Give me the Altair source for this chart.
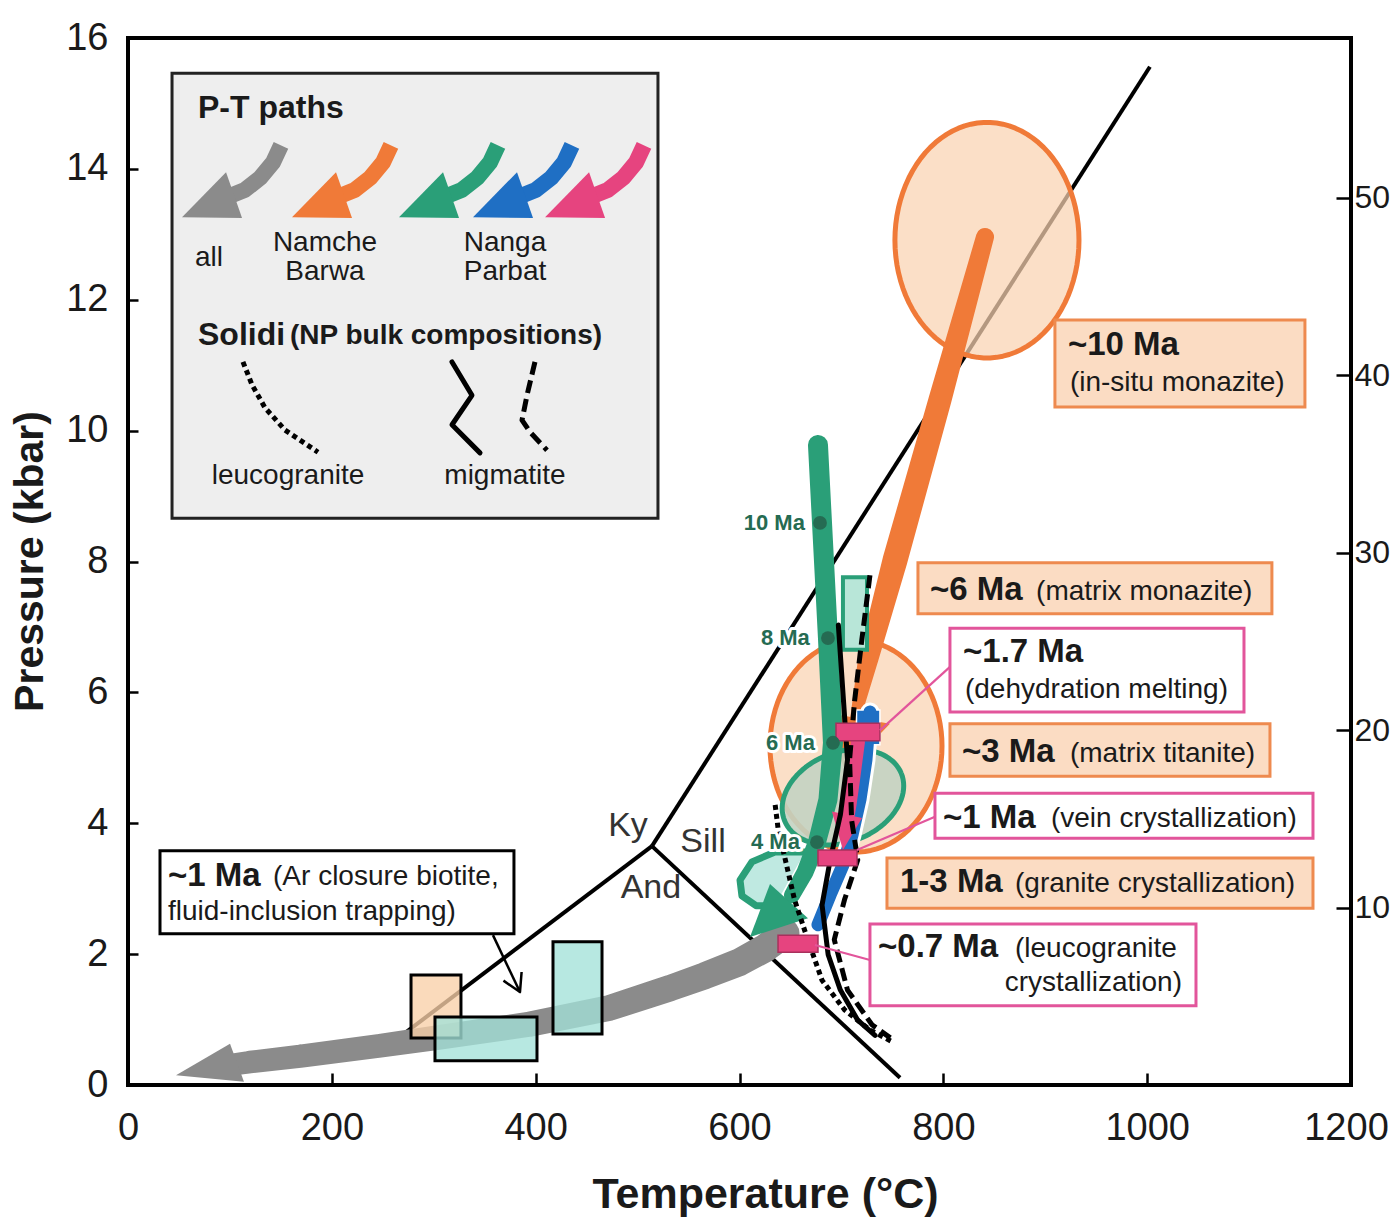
import altair as alt
import numpy as np
import pandas as pd

# ------------------------------------------------------------------ axes
X_DOMAIN = [0, 1200]
Y_DOMAIN = [0, 16]
T_TICKS = [0, 200, 400, 600, 800, 1000, 1200]
P_TICKS = [0, 2, 4, 6, 8, 10, 12, 14, 16]
DEPTH_TICKS = [10, 20, 30, 40, 50]
DEPTH_MAX = 59.0          # km equivalent of 16 kbar

W, H = 1223, 1047
PX_RATIO = (H / 16.0) / (W / 1200.0)   # pixels per kbar / pixels per degC

FONT = "Liberation Sans, Arial, Helvetica, sans-serif"
TICKFONT = "Liberation Sans Narrow, Arial Narrow, Liberation Sans, sans-serif"

ORANGE = "#f07a38"
PEACH = "#fbdcc3"
GREEN = "#2a9f78"
DKGREEN = "#256b52"
BLUE = "#1f6fc4"
PINK = "#e6447f"
GRAY = "#8b8b8b"
TEAL = "#a3e2d8"
LEGBG = "#eeeeee"
PINKBOX = "#e2559b"
ORBOX = "#ee8a4f"
INK = "#1a1a1a"

# ------------------------------------------------------------------ data
# aluminosilicate phase boundaries (T degC, P kbar)
KYSILL_T, KYSILL_P = [514.1, 1002.7], [3.65, 15.56]
KYAND_T, KYAND_P = [514.1, 257.0], [3.65, 0.62]
SILLAND_T, SILLAND_P = [514.1, 757.5], [3.65, 0.11]

# grey "all" P-T path
GRAY_T = [644.6, 625.0, 600.5, 566.1, 531.8, 472.9, 394.4, 306.1, 247.3, 168.8, 119.7, 102.0]
GRAY_P = [2.32, 2.09, 1.88, 1.67, 1.48, 1.18, 0.93, 0.73, 0.60, 0.44, 0.35, 0.31]
GRAY_HEAD_T = [47.1, 100.1, 113.8]
GRAY_HEAD_P = [0.15, 0.63, 0.05]

# Namche Barwa (orange)
ORANGE_T = [840.9, 796.7, 752.6, 726.0, 713.3]
ORANGE_P = [12.96, 10.47, 8.02, 6.49, 5.58]
ORANGE_HEAD_T = [703.5, 680.9, 747.6]
ORANGE_HEAD_P = [4.81, 5.70, 5.52]
ELL_CT = [842.8, 714.3]
ELL_CP = [12.91, 5.18]
ELL_RT = [90.3, 84.4]
ELL_RP = [1.80, 1.62]

# Nanga Parbat (green)
GREEN_T = [677.0, 686.8, 691.7, 686.8, 676.0, 664.2, 651.5]
GREEN_P = [9.78, 6.83, 5.23, 4.36, 3.71, 3.25, 2.90]
GREEN_HEAD_T = [610.3, 629.9, 667.2]
GREEN_HEAD_P = [2.26, 3.07, 2.55]
GLOOP = dict(cT=701.5, cP=4.40, a=61.8, b=44.0, angle=22.0)   # a, b in degC-equivalent
GHOOK_T = [664.2, 634.8, 612.2, 600.5, 602.4, 616.2, 634.8]
GHOOK_P = [3.56, 3.56, 3.41, 3.13, 2.89, 2.74, 2.74]
GRECT = [701.5, 725.1, 6.65, 7.76]
AGE_T = [679.0, 686.8, 691.7, 676.0]
AGE_P = [8.59, 6.83, 5.23, 3.71]
AGE_LBL = ["10 Ma", "8 Ma", "6 Ma", "4 Ma"]
AGE_LBL_T = [664.2, 669.0, 674.0, 659.3]

# Nanga Parbat (blue)
BLUE_T = [728.0, 724.1, 718.2, 710.4, 701.5, 688.8, 677.0]
BLUE_P = [5.70, 4.97, 4.36, 3.82, 3.36, 2.90, 2.45]
BRECT = [714.8, 737.8, 5.20, 5.73]

# Nanga Parbat (pink)
PINK_T = [716.2, 711.3, 708.4, 706.4]
PINK_P = [5.24, 4.66, 4.28, 4.05]
PINK_HEAD_T = [701.5, 690.7, 720.2]
PINK_HEAD_P = [3.59, 4.18, 4.08]
PRECT_T1 = [694.7, 677.0, 637.8]
PRECT_T2 = [737.8, 715.3, 677.0]
PRECT_P1 = [5.26, 3.35, 2.03]
PRECT_P2 = [5.53, 3.59, 2.29]

# solidi
LEUCO_T = [635, 638, 645, 654, 667, 681, 703, 728, 750]
LEUCO_P = [4.28, 3.90, 3.44, 2.83, 2.22, 1.60, 1.15, 0.84, 0.66]
MIGS_T = [697, 702, 706, 699, 689, 681, 687, 699, 716, 733]
MIGS_P = [7.03, 5.88, 4.97, 4.13, 3.44, 2.75, 1.99, 1.45, 0.99, 0.76]
MIGD_T = [728, 720, 713, 708, 710, 716, 703, 693, 706, 730, 748]
MIGD_P = [7.79, 6.80, 5.88, 4.97, 4.05, 3.44, 2.83, 2.22, 1.45, 0.92, 0.72]

# small rectangles at low P-T
LOWBOX_T1 = [277.7, 301.2, 417.0]
LOWBOX_T2 = [326.7, 401.3, 465.1]
LOWBOX_P1 = [0.72, 0.37, 0.78]
LOWBOX_P2 = [1.68, 1.04, 2.19]
LOWBOX_FILL = ["#f8d0a8", TEAL, TEAL]

# annotation boxes
BOX_T1 = [909.5, 775.1, 806.5, 806.5, 791.8, 744.7, 728.0, 31.4]
BOX_T2 = [1154.8, 1122.4, 1095.0, 1120.5, 1162.7, 1162.7, 1047.9, 378.7]
BOX_P1 = [10.36, 7.20, 5.70, 4.72, 3.77, 2.70, 1.21, 2.31]
BOX_P2 = [11.69, 7.98, 6.98, 5.52, 4.46, 3.47, 2.46, 3.58]
BOX_KIND = ["orange", "orange", "pink", "orange", "pink", "orange", "pink", "black"]

BOLD_TXT = ["~10 Ma", "~6 Ma", "~1.7 Ma", "~3 Ma", "~1 Ma", "1-3 Ma", "~0.7 Ma", "~1 Ma"]
BOLD_T = [922.3, 786.9, 819.3, 818.3, 799.6, 757.5, 735.9, 39.2]
BOLD_P = [11.31, 7.56, 6.62, 5.09, 4.08, 3.10, 2.11, 3.19]
REG_TXT = ["(in-situ monazite)", "(matrix monazite)", "(dehydration melting)",
           "(matrix titanite)", "(vein crystallization)", "(granite crystallization)",
           "(leucogranite", "(Ar closure biotite,", "fluid-inclusion trapping)"]
REG_T = [924.2, 891.0, 821.2, 924.2, 905.6, 870.3, 870.3, 142.3, 39.2]
REG_P = [10.73, 7.53, 6.04, 5.06, 4.06, 3.07, 2.08, 3.18, 2.64]
RIGHT_TXT, RIGHT_T, RIGHT_P = ["crystallization)"], [1034.2], [1.56]

# connector lines (start T, start P, end T, end P)
CONN_T1 = [806.5, 791.8, 728.0]
CONN_P1 = [6.39, 4.10, 1.91]
CONN_T2 = [737.8, 715.3, 674.0]
CONN_P2 = [5.42, 3.59, 2.14]
ARROW_T, ARROW_P = [358.1, 384.6], [2.29, 1.42]
ARROWHEAD_T, ARROWHEAD_P = [368.4, 384.6, 386.2], [1.595, 1.42, 1.727]

PHASE_TXT = ["Ky", "Sill", "And"]
PHASE_T = [490.6, 564.2, 513.1]
PHASE_P = [3.96, 3.71, 3.01]

# legend
LEG_BOX = [43.2, 520.0, 8.66, 15.46]
LEG_BAND_T = [150.1, 142.3, 129.5, 114.8, 102.0]
LEG_BAND_P = [14.36, 14.10, 13.86, 13.68, 13.60]
LEG_HEAD_T = [53.0, 96.2, 111.9]
LEG_HEAD_P = [13.26, 13.95, 13.25]
LEG_SHIFT_T = [0.0, 107.9, 212.9, 285.5, 356.2]
LEG_COLORS = [GRAY, ORANGE, GREEN, BLUE, PINK]
LEG_LEUCO_T = [112.8, 121.7, 134.4, 154.0, 186.4]
LEG_LEUCO_P = [11.05, 10.70, 10.35, 10.01, 9.67]
LEG_MIGS_T = [317.9, 337.5, 317.9, 345.4]
LEG_MIGS_P = [11.05, 10.54, 10.09, 9.66]
LEG_MIGD_T = [399.3, 391.5, 386.6, 394.4, 411.1]
LEG_MIGD_P = [11.05, 10.54, 10.16, 9.98, 9.70]
LEG_TXT_C = ["all", "Namche", "Barwa", "Nanga", "Parbat", "leucogranite", "migmatite"]
LEG_TXT_C_T = [79.5, 193.3, 193.3, 369.9, 369.9, 157.0, 369.9]
LEG_TXT_C_P = [12.64, 12.87, 12.42, 12.87, 12.42, 9.31, 9.31]

# ------------------------------------------------------------------ helpers
LBL = 38
XAXIS = alt.Axis(values=T_TICKS, format="d", title="Temperature (°C)", grid=False, domain=False,
                 tickSize=12, tickWidth=2.5, tickColor="black", offset=-12,
                 labelFont=TICKFONT, labelFontSize=LBL, labelColor=INK, labelPadding=24,
                 labelFlush=False, labelOverlap=False,
                 labelOffset={"condition": {"test": "datum.value == 1200", "value": -5},
                              "value": 0},
                 titleFont=FONT, titleFontSize=43, titleFontWeight="bold", titleColor=INK,
                 titlePadding=26, titleX=637)
YAXIS = alt.Axis(values=P_TICKS, format="d", title="Pressure (kbar)", grid=False, domain=False,
                 tickSize=10, tickWidth=2.5, tickColor="black", offset=-10,
                 labelFont=TICKFONT, labelFontSize=LBL, labelColor=INK, labelPadding=20,
                 labelOverlap=False,
                 titleFont=FONT, titleFontSize=41, titleFontWeight="bold", titleColor=INK,
                 titleX=-108, titleY=523, titleAngle=270, titleBaseline="middle",
                 titleAlign="center")


def xy():
    return dict(
        x=alt.X("T:Q", scale=alt.Scale(domain=X_DOMAIN, nice=False, zero=False), axis=XAXIS),
        y=alt.Y("P:Q", scale=alt.Scale(domain=Y_DOMAIN, nice=False, zero=False), axis=YAXIS),
    )


def pdf(T, P):
    d = pd.DataFrame({"T": list(T), "P": list(P)})
    d["i"] = range(len(d))
    return d


def line(T, P, color, sw, dash=None, cap="round"):
    kw = dict(stroke=color, strokeWidth=sw, strokeCap=cap, strokeJoin="round")
    if dash:
        kw["strokeDash"] = dash
    return alt.Chart(pdf(T, P)).mark_line(**kw).encode(order="i:Q", **xy())


def poly(T, P, fill, stroke="transparent", sw=0.0, fo=1.0):
    T = list(T) + [T[0]]
    P = list(P) + [P[0]]
    return alt.Chart(pdf(T, P)).mark_line(
        fill=fill, stroke=stroke, strokeWidth=sw, fillOpacity=fo, strokeJoin="round"
    ).encode(order="i:Q", **xy())


def trail(T, P, widths, color):
    d = pdf(T, P)
    d["w"] = list(widths)
    return alt.Chart(d).mark_trail(color=color).encode(
        order="i:Q", size=alt.Size("w:Q", scale=None, legend=None), **xy())


def rects(T1, T2, P1, P2, fill, stroke, sw, fo=1.0):
    d = pd.DataFrame({"T": T1, "T2": T2, "P": P1, "P2": P2})
    return alt.Chart(d).mark_rect(fill=fill, stroke=stroke, strokeWidth=sw,
                                  fillOpacity=fo).encode(x2="T2:Q", y2="P2:Q", **xy())


def texts(labels, T, P, size, weight="normal", color=INK, align="left", font=FONT,
          halo=None):
    d = pd.DataFrame({"T": T, "P": P, "label": labels})
    kw = dict(align=align, baseline="middle", fontSize=size, fontWeight=weight,
              font=font, fill=color)
    if halo:
        kw.update(stroke="white", strokeWidth=halo, strokeJoin="round", fill="white")
    return alt.Chart(d).mark_text(**kw).encode(text="label:N", **xy())


def ellipse(cT, cP, a, b, angle=0.0, n=90):
    """Outline of an ellipse; a, b are semi-axes in degC-equivalent screen units."""
    t = np.linspace(0, 2 * np.pi, n, endpoint=False)
    th = np.deg2rad(angle)
    u, v = a * np.cos(t), b * np.sin(t)
    du = u * np.cos(th) - v * np.sin(th)
    dv = u * np.sin(th) + v * np.cos(th)
    return list(cT + du), list(cP + dv / PX_RATIO)


# ------------------------------------------------------------------ layers
L = []
# aluminosilicate boundaries
L.append(line(KYSILL_T, KYSILL_P, "black", 4, cap="butt"))
L.append(line(KYAND_T, KYAND_P, "black", 4, cap="butt"))
L.append(line(SILLAND_T, SILLAND_P, "black", 4, cap="butt"))

# grey path (all)
L.append(trail(GRAY_T, GRAY_P, np.linspace(29, 22, len(GRAY_T)), GRAY))
L.append(poly(GRAY_HEAD_T, GRAY_HEAD_P, GRAY))

# orange ellipses
for cT, cP, rT, rP in zip(ELL_CT, ELL_CP, ELL_RT, ELL_RP):
    eT, eP = ellipse(cT, cP, rT, rP * PX_RATIO)
    L.append(poly(eT, eP, "#fad2b2", ORANGE, 5, fo=0.72))

# orange path
L.append(trail(ORANGE_T, ORANGE_P, [18, 23, 25, 20, 10], ORANGE))
L.append(poly(ORANGE_HEAD_T, ORANGE_HEAD_P, ORANGE))

# green elements
L.append(rects([GRECT[0]], [GRECT[1]], [GRECT[2]], [GRECT[3]], "#b8e6d8", GREEN, 4))
gT, gP = ellipse(GLOOP["cT"], GLOOP["cP"], GLOOP["a"], GLOOP["b"], GLOOP["angle"])
L.append(poly(gT, gP, "#c3d3c2", GREEN, 5, fo=0.9))
L.append(alt.Chart(pdf(GHOOK_T, GHOOK_P)).mark_line(
    fill="#bfe9e1", stroke=GREEN, strokeWidth=7, strokeJoin="round", strokeCap="round"
).encode(order="i:Q", **xy()))
L.append(trail(GREEN_T, GREEN_P, [20, 20, 20, 19, 18, 17, 16], GREEN))
L.append(poly(GREEN_HEAD_T, GREEN_HEAD_P, GREEN))

# blue path
L.append(trail(BLUE_T, BLUE_P, [19] * len(BLUE_T), "white"))
L.append(rects([BRECT[0]], [BRECT[1]], [BRECT[2]], [BRECT[3]], BLUE, "white", 1.5))
L.append(trail(BLUE_T, BLUE_P, [13] * len(BLUE_T), BLUE))

# pink path
L.append(trail(PINK_T, PINK_P, [14, 14, 13, 12], PINK))
L.append(poly(PINK_HEAD_T, PINK_HEAD_P, PINK))

# solidi
L.append(line(LEUCO_T, LEUCO_P, "black", 5, dash=[5, 4], cap="butt"))
L.append(line(MIGS_T, MIGS_P, "black", 5))
L.append(line(MIGD_T, MIGD_P, "black", 5, dash=[13, 6], cap="butt"))

# pink rectangles
L.append(rects(PRECT_T1, PRECT_T2, PRECT_P1, PRECT_P2, PINK, "#a8305c", 1.5))

# green age dots and labels
L.append(alt.Chart(pdf(AGE_T, AGE_P)).mark_circle(size=190, color=DKGREEN, opacity=1)
         .encode(**xy()))
L.append(texts(AGE_LBL, AGE_LBL_T, AGE_P, 22, "bold", align="right", halo=6))
L.append(texts(AGE_LBL, AGE_LBL_T, AGE_P, 22, "bold", color=DKGREEN, align="right"))

# low P-T boxes
for t1, t2, p1, p2, f in zip(LOWBOX_T1, LOWBOX_T2, LOWBOX_P1, LOWBOX_P2, LOWBOX_FILL):
    L.append(rects([t1], [t2], [p1], [p2], f, "black", 3, fo=0.78))

# phase labels
L.append(texts(PHASE_TXT, PHASE_T, PHASE_P, 34, color="#333333", align="center"))

# connectors
for t1, p1, t2, p2 in zip(CONN_T1, CONN_P1, CONN_T2, CONN_P2):
    L.append(line([t1, t2], [p1, p2], PINKBOX, 2.2, cap="butt"))
L.append(line(ARROW_T, ARROW_P, "black", 2.5, cap="butt"))
L.append(line(ARROWHEAD_T, ARROWHEAD_P, "black", 2.5, cap="butt"))

# annotation boxes
box_style = {"orange": (PEACH, ORBOX), "pink": ("white", PINKBOX), "black": ("white", "black")}
for t1, t2, p1, p2, k in zip(BOX_T1, BOX_T2, BOX_P1, BOX_P2, BOX_KIND):
    f, s = box_style[k]
    L.append(rects([t1], [t2], [p1], [p2], f, s, 3))
L.append(texts(BOLD_TXT, BOLD_T, BOLD_P, 33, "bold"))
L.append(texts(REG_TXT, REG_T, REG_P, 28))
L.append(texts(RIGHT_TXT, RIGHT_T, RIGHT_P, 28, align="right"))

# legend
L.append(rects([LEG_BOX[0]], [LEG_BOX[1]], [LEG_BOX[2]], [LEG_BOX[3]], LEGBG, "#222222", 3))
for sh, col in zip(LEG_SHIFT_T, LEG_COLORS):
    L.append(line([t + sh for t in LEG_BAND_T], LEG_BAND_P, col, 16, cap="butt"))
    L.append(poly([t + sh for t in LEG_HEAD_T], LEG_HEAD_P, col))
L.append(line(LEG_LEUCO_T, LEG_LEUCO_P, "black", 5, dash=[5, 4], cap="butt"))
L.append(line(LEG_MIGS_T, LEG_MIGS_P, "black", 5))
L.append(line(LEG_MIGD_T, LEG_MIGD_P, "black", 5, dash=[13, 6], cap="butt"))
L.append(texts(["P-T paths"], [68.7], [14.93], 32, "bold"))
L.append(texts(["Solidi"], [68.7], [11.46], 32, "bold"))
L.append(texts(["(NP bulk compositions)"], [158.9], [11.44], 28, "bold"))
L.append(texts(LEG_TXT_C, LEG_TXT_C_T, LEG_TXT_C_P, 28, align="center"))

# plot frame
L.append(rects([X_DOMAIN[0]], [X_DOMAIN[1]], [Y_DOMAIN[0]], [Y_DOMAIN[1]],
               "transparent", "black", 4))

main = alt.layer(*L)

# right-hand depth axis
depth = alt.Chart(pd.DataFrame({"depth": [0.0, DEPTH_MAX]})).mark_point(opacity=0).encode(
    y=alt.Y("depth:Q", scale=alt.Scale(domain=[0, DEPTH_MAX], nice=False, zero=False),
            axis=alt.Axis(orient="right", values=DEPTH_TICKS, format="d", title=None,
                          grid=False, domain=False, tickSize=15, tickWidth=2.5,
                          tickColor="black", offset=-15, labelPadding=3, labelFont=TICKFONT,
                          labelFontSize=32, labelColor=INK, labelOverlap=False)))

chart = (
    alt.layer(main, depth)
    .resolve_scale(y="independent")
    .properties(width=W, height=H, autosize=alt.AutoSizeParams(type="none"),
                padding={"left": 120, "top": 30, "right": 39, "bottom": 135})
    .configure_view(strokeWidth=0)
    .configure(background="white")
)

chart.save("out.html", embed_options={"renderer": "svg", "actions": False})
